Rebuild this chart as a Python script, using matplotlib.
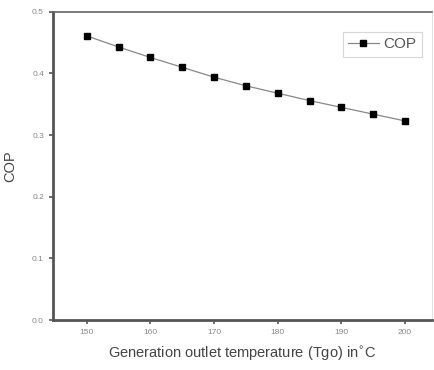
import matplotlib
matplotlib.use('Agg')
import matplotlib.pyplot as plt

# generator outlet temperature (C) vs coefficient of performance
tgo = [150, 155, 160, 165, 170, 175, 180, 185, 190, 195, 200]
cop = [0.461, 0.443, 0.426, 0.410, 0.394, 0.380, 0.368, 0.356, 0.345, 0.334, 0.323]

xticks = [150, 160, 170, 180, 190, 200]
yticks = [0.0, 0.1, 0.2, 0.3, 0.4, 0.5]

plt.rcParams['font.family'] = ['Liberation Sans', 'DejaVu Sans']

fig = plt.figure(figsize=(4.34, 3.70), dpi=100)
ax = fig.add_axes([0.122, 0.135, 0.873, 0.833])

ax.plot(tgo, cop, '-', color='#888888', lw=0.9, marker='s', ms=4,
        mfc='black', mec='black', label='COP')

ax.set_xlim(144.7, 204.2)
ax.set_ylim(0, 0.5)
ax.set_xticks(xticks)
ax.set_yticks(yticks)
ax.set_xticklabels([str(t) for t in xticks])
ax.set_yticklabels(['%.1f' % t for t in yticks])

ax.tick_params(axis='both', direction='out', length=3, width=1.2,
               color='#555555', labelsize=6, labelcolor='#888888')

for side in ['left', 'bottom']:
    ax.spines[side].set_linewidth(2.0)
    ax.spines[side].set_color('#555555')
ax.spines['top'].set_linewidth(1.2)
ax.spines['top'].set_color('#666666')
ax.spines['right'].set_linewidth(0.6)
ax.spines['right'].set_color('#dddddd')

ax.set_xlabel('Generation outlet temperature (Tgo) in$^{\\circ}$C', fontsize=10.5,
              color='#444444', labelpad=6)
ax.set_ylabel('COP', fontsize=10.5, color='#444444', labelpad=11)

leg = ax.legend(loc='upper right', fontsize=11, frameon=True, fancybox=False,
                handlelength=2.0, handletextpad=0.3, borderpad=0.35,
                bbox_to_anchor=(0.993, 0.96))
leg.get_frame().set_edgecolor('#cccccc')
leg.get_frame().set_linewidth(0.8)
for t in leg.get_texts():
    t.set_color('#555555')

fig.savefig('out.png', dpi=100)
